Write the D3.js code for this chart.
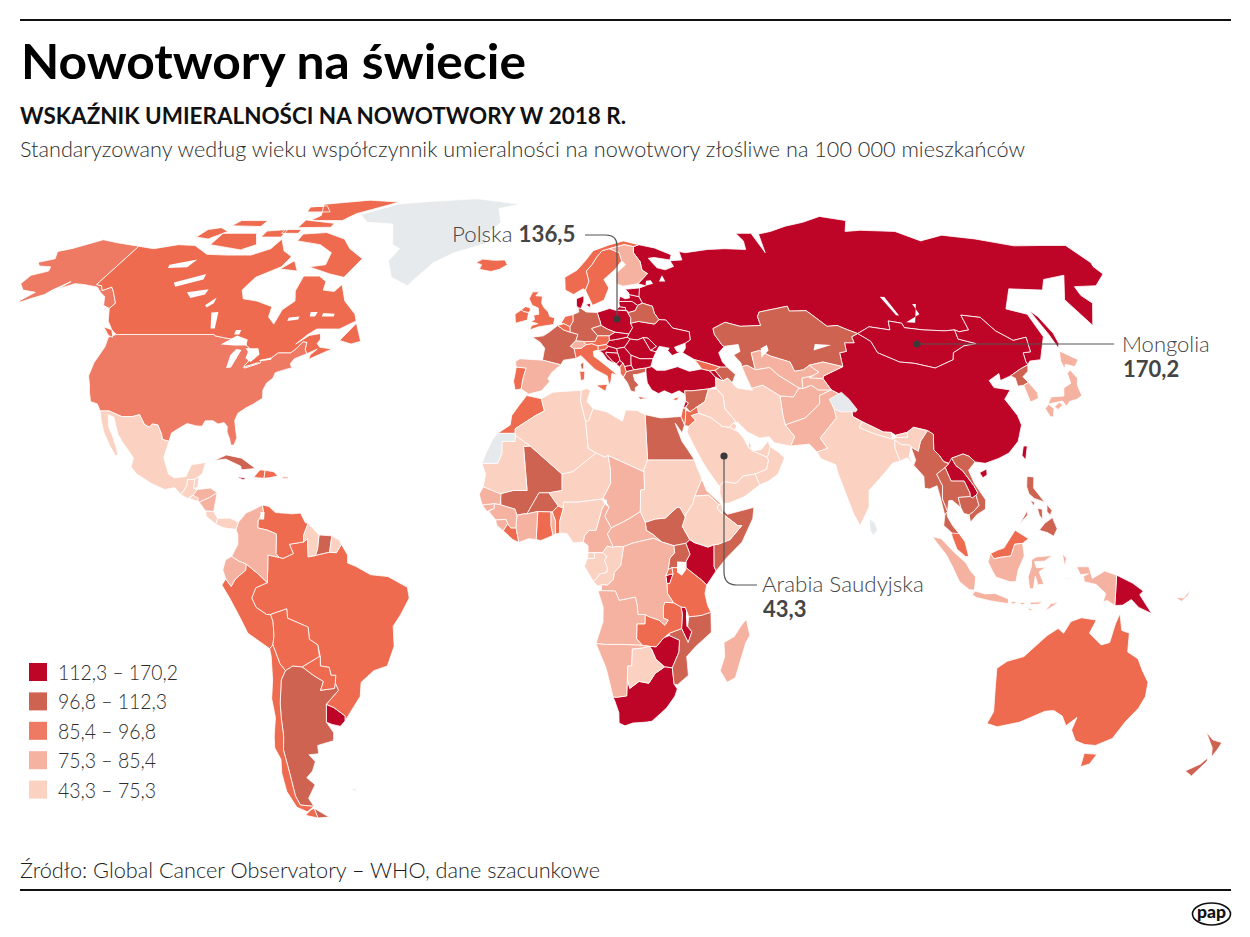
<!DOCTYPE html>
<html lang="pl"><head><meta charset="utf-8"><title>Nowotwory na świecie</title>
<script src="https://cdn.jsdelivr.net/npm/d3@7"></script>
<style>html,body{margin:0;background:#fff}svg{display:block}text{font-family:Lato,"Noto Sans",sans-serif}</style>
</head><body><svg id="c" width="1250" height="937"></svg>
<script>
// ---------- values ----------
const breaks=[75.3,85.4,88,96.8,112.3];
const palette=["#FBD1C2","#F6B2A0","#EE7A64","#EE6B4F","#CF6351","#BE0527"];
const noDataColor="#E6EAEC";
const legendLabels=["112,3 – 170,2","96,8 – 112,3","85,4 – 96,8","75,3 – 85,4","43,3 – 75,3"];
const legendSamples=[140,105,87,80,60];
const highest=[["Rosja",130.4],["Mongolia",170.2],["Chiny",130.1],["Turcja",119.4],["Polska",136.5],["Litwa",124.8],["Łotwa",127.6],["Estonia",126.3],["Ukraina",118.9],["Mołdawia",116.2],["Rumunia",122.5],["Bułgaria",117.3],["Węgry",141.1],["Słowacja",123.4],["Serbia",128.9],["Chorwacja",128.4],["Bośnia",121.7],["Czarnogóra",124.1],["Macedonia",114.5],["Dania",113.2],["Armenia",124.6],["Liban",113.9],["Laos",113.6],["Kenia",118.4],["Zimbabwe",126.8],["RPA",117.2],["Malawi",120.5],["Burundi",114.8],["Urugwaj",123.7],["Papua-Nowa Gwinea",121.3],["Jamajka",116.1]];
const high=[["Niemcy",106.7],["Francja",102.3],["Białoruś",104.5],["Czechy",108.9],["Kazachstan",103.6],["Argentyna",108.2],["Mali",101.4],["Burkina Faso",99.7],["Egipt",100.3],["Sudan Płd.",98.5],["Somalia",102.9],["Uganda",105.3],["Mjanma",104.8],["Tajlandia",103.2],["Kambodża",109.4],["Wietnam",101.6],["Korea Płn.",110.2],["Mozambik",99.1],["Surinam",106.3],["Kuba",107.5],["Filipiny",98.4],["Syria",100.9],["Grecja",103.7],["Nowa Zelandia",105.1],["Azerbejdżan",100.6]];
const upperMiddle=[["USA",86.9]];
const middle=[["Kanada",94.5],["Brazylia",93.2],["Wenezuela",92.8],["Peru",95.1],["Boliwia",90.6],["Paragwaj",91.4],["Chile",94.9],["Australia",92.7],["Szwecja",91.8],["Norwegia",96.1],["Islandia",93.4],["Irlandia",95.6],["Wielka Brytania",96.3],["Holandia",95.8],["Belgia",94.2],["Włochy",92.5],["Portugalia",93.9],["Maroko",89.7],["Ghana",91.2],["Benin",90.4],["Liberia",91.9],["Tanzania",90.8],["Zambia",92.3],["Malezja",93.6],["Jordania",95.4],["Izrael",94.7],["Haiti",96.4],["Dominikana",94.1],["Austria",89.9],["Słowenia",91.1],["Albania",90.3],["Gruzja",93.1],["Rwanda",92.1],["Cypr",90.1]];
const lowerMiddle=[["Hiszpania",83.5],["Finlandia",81.2],["Kolumbia",78.9],["Ekwador",84.2],["Honduras",76.4],["Nikaragua",79.8],["Czad",80.6],["Rep. Środkowoafrykańska",77.5],["DR Konga",78.2],["Angola",82.1],["Namibia",79.4],["Madagaskar",82.8],["Indonezja",80.3],["Japonia",81.7],["Korea Płd.",76.8],["Afganistan",78.6],["Pakistan",81.9],["Uzbekistan",83.7],["Wybrzeże Kości Słoniowej",79.1],["Gwinea",80.9],["Sierra Leone",77.6],["Gwinea Bissau",84.6],["Senegal",82.4],["Togo",76.1],["Kamerun",83.1],["Erytrea",78.4],["Szwajcaria",84.9],["Tadżykistan",75.9],["Turkmenistan",76.6],["Kirgistan",77.2],["Portoryko",84.1],["Wyspy Salomona",78.3]];
const lowest=[["Meksyk",71.4],["Gwatemala",68.9],["Belize",72.3],["Salwador",65.2],["Kostaryka",74.1],["Panama",72.8],["Gujana",70.5],["Gujana Fr.",69.7],["Algieria",66.4],["Libia",63.8],["Tunezja",67.2],["Mauretania",68.1],["Niger",59.6],["Nigeria",62.4],["Sudan",64.7],["Etiopia",67.9],["Dżibuti",74.6],["Arabia Saudyjska",43.3],["Jemen",69.3],["Oman",62.8],["ZEA",70.9],["Katar",58.7],["Kuwejt",61.5],["Irak",72.5],["Iran",71.2],["Indie",73.4],["Nepal",66.8],["Bhutan",69.4],["Bangladesz",68.6],["Gabon",70.2],["Kongo",74.9],["Gwinea Równikowa",73.7],["Botswana",72.1]];
const noDataNames=["Grenlandia","Sahara Zachodnia","Sri Lanka","Kaszmir","Falklandy"];
const calloutNames=["Polska","Mongolia","Arabia Saudyjska"];
const calloutValues=["136,5","170,2","43,3"];
// Robinson table
const robLat=[0,5,10,15,20,25,30,35,40,45,50,55,60,65,70,75,80,85,90];
const robLen=[1,.9986,.9954,.99,.9822,.973,.96,.9427,.9216,.8962,.8679,.835,.7986,.7597,.7186,.6732,.6213,.5722,.5322];
const robDfe=[0,.062,.124,.186,.248,.31,.372,.434,.4958,.5571,.6176,.6769,.7346,.7903,.8435,.8936,.9394,.9761,1];
// ---------- outlines [lon,lat] ----------
const outlines={
"Rosja":[[[28,59.5],[30,60],[27.8,60.5],[31.5,62.9],[30,63.7],[30,65.8],[28.5,68],[29,69.5],[31,70],[36,69.2],[41,67.5],[40,66.2],[35,66.8],[33,66.6],[35,64.3],[37.5,63.8],[40.5,64.6],[40,66],[44,66.2],[44,68.3],[46,68],[54,68.8],[60,69],[67,68.8],[68,71],[67,73],[72.5,73],[73,68],[75,72.8],[80,73.5],[87,74.9],[95,76],[104,77.7],[112,76.5],[107,73.5],[113,73.8],[125,73.5],[130,71],[140,72.5],[150,71.5],[160,69.7],[170,69.8],[178,69.8],[178,65.5],[177,64.6],[177,62.8],[170,60],[163,59.8],[162,57.8],[163,56],[156.7,51],[155.7,56.8],[164,62.5],[156,61.5],[152,59],[142,59.3],[135.5,54.7],[140.5,53.5],[140,48.5],[135,43.5],[131.8,43.2],[130.7,42.4],[130.6,43],[131.3,45],[133.5,45.2],[135,48.4],[130.8,47.7],[127.5,49.8],[126,52.8],[120.8,53.3],[120,50],[117,49.6],[116,50],[113,49.8],[107,50],[102,50.5],[102,51.5],[98.5,52],[97.5,50],[92,50.7],[87.8,49.2],[85.5,50],[83,51],[80,50.8],[77,53.5],[76,54.3],[71,54.2],[71,55.3],[62,54],[61,53],[61,51],[55,50.8],[51,51.7],[47,50.3],[47,49],[48.5,46.6],[49,46.4],[47,45],[47.5,43],[48.5,41.9],[46.5,41.9],[43.5,42.7],[40,43.5],[37,45],[38,46],[38.2,47.1],[39.8,47.8],[40,49.6],[35.5,50.4],[34,52.2],[32,52.3],[31,53.7],[30.8,55.3],[28,56],[27.3,57.7]],[[19.7,54.4],[22.7,54.4],[22.7,55],[21,55.2]],[[142,54.3],[143,53],[143.5,49.3],[143,47],[142,46],[142,49]]],
"Mongolia":[[[87.8,49.2],[92,50.7],[97.5,50],[98.5,52],[102,51.5],[102,50.5],[107,50],[113,49.8],[116,50],[115.5,48],[119.8,47],[116,46.5],[112,45],[111,43.5],[105,41.7],[100,42.7],[96,43],[91,45],[90.5,47.5]]],
"Chiny":[[[73.6,39.4],[74,40],[80,42],[80.5,45],[82.5,45.3],[83,47.2],[85.7,47.2],[85.7,48.5],[87.8,49.2],[90.5,47.5],[91,45],[96,43],[100,42.7],[105,41.7],[111,43.5],[112,45],[116,46.5],[119.8,47],[115.5,48],[116,50],[117,49.6],[120,50],[120.8,53.3],[126,52.8],[127.5,49.8],[130.8,47.7],[135,48.4],[133.5,45.2],[131.3,45],[130.6,43],[130.7,42.4],[128,41.5],[124.3,40],[121,39],[121.5,40.5],[118,39],[118.5,37.5],[122.5,37],[120,35],[121.8,31.5],[122,29.5],[120,26],[117,23.5],[114,22.3],[110.5,21.3],[108,21.6],[106.7,22.8],[105.3,23.3],[102.2,22.4],[101.7,21.2],[100,21.7],[99.2,23],[98,24.2],[98.7,27.5],[97.4,28.3],[94,29],[92,27.9],[89,27.3],[88,27.9],[86,28],[81,30.2],[78.9,31.3],[79,32.5],[78.5,33.5],[77.8,35.6],[75,37]],[[108.7,19.3],[110.6,20.1],[110.5,18.8],[109.3,18.2]],[[121,25],[122,25],[120.9,22],[120.2,23]]],
"Turcja":[[[26.3,41.7],[28,42],[29.2,41.2],[31.5,41.2],[35,42],[38,41],[41.5,41.5],[43.5,41.1],[44.8,39.7],[44.5,37.7],[42.4,37.2],[38,36.8],[36,36.8],[36,36],[34.5,36.8],[32.5,36.1],[30.6,36.8],[29,36.2],[27.3,37],[26.3,38.5],[26.2,40]]],
"Polska":[[[14.2,53.9],[18,54.8],[19.7,54.4],[23,54.3],[23.9,52.6],[23.6,51.5],[24,50.5],[22.7,49.1],[18.8,49.5],[16.7,50.2],[15,51],[14.8,52]]],
"Litwa":[[[21,55.2],[21,56.4],[25,56.4],[26.5,55.5],[25.5,54.3],[23.5,53.9],[23,54.3],[22.7,54.4],[22.7,55]]],
"Łotwa":[[[21,56.4],[21.6,57.6],[23,57],[24.4,57.2],[24.4,58],[27.3,57.5],[28,56],[26.5,55.5],[25,56.4]]],
"Estonia":[[[23.5,59.2],[28,59.5],[27.3,57.5],[24.4,58],[24.4,58.4]]],
"Ukraina":[[[22.7,49.1],[24,50.5],[23.6,51.5],[26,51.9],[30.5,51.3],[32,52.3],[34,52.2],[35.5,50.4],[40,49.6],[39.8,47.8],[38.2,47.1],[35,46.2],[35.5,45.3],[36.6,45.2],[34,44.4],[33,45.5],[33.5,46],[30.8,46.4],[29.7,45.2],[28.2,45.5],[30,46.4],[28,48.2],[26.6,48.3],[24.9,47.8],[22.9,48],[22.1,48.4]]],
"Mołdawia":[[[26.6,48.3],[28,48.2],[30,46.4],[28.2,45.5]]],
"Rumunia":[[[21,46.2],[22.9,48],[24.9,47.8],[26.6,48.3],[28.2,45.5],[29.7,45.2],[28.6,43.7],[25,43.7],[22.6,44.5]]],
"Bułgaria":[[[22.4,43],[22.6,44.5],[25,43.7],[28.6,43.7],[27.7,42],[26.3,41.7],[23,41.3],[22.4,42.3]]],
"Węgry":[[[16,46.8],[17,47.7],[18.8,47.9],[22.1,48.4],[22.9,48],[21,46.2],[18.8,45.9],[16.6,46.4]]],
"Słowacja":[[[17,48.7],[18.8,49.5],[22.7,49.1],[22.1,48.4],[18.8,47.9],[17,47.7]]],
"Serbia":[[[19,44.9],[18.8,45.9],[21,46.2],[22.6,44.5],[22.4,43],[22.4,42.3],[20.6,42],[20.2,42.8],[19.4,43.3],[19.4,43.7]]],
"Chorwacja":[[[13.7,45.5],[15.5,45.7],[16.6,46.4],[18.8,45.9],[19,44.9],[15.8,45.1],[15.8,44.7],[17.5,43.1],[18.5,42.4],[16,43.5],[14.8,45]]],
"Bośnia":[[[15.8,45.1],[19,44.9],[19.4,43.7],[19.4,43.3],[18.5,42.6],[17.5,43.1],[15.8,44.7]]],
"Czarnogóra":[[[18.5,42.6],[19.4,43.3],[20.2,42.8],[19.3,41.9],[18.5,42.4]]],
"Macedonia":[[[20.6,42],[22.4,42.3],[23,41.3],[20.9,40.9]]],
"Dania":[[[8.2,55.5],[8.6,54.9],[9.5,54.8],[10.5,56.5],[10.6,57.7],[8.3,57]],[[11,55.7],[12.5,56],[12.2,55]]],
"Armenia":[[[43.5,41.1],[45,41.2],[46.5,39.2],[46.5,38.9],[44.8,39.7]]],
"Liban":[[[35.1,33.1],[35.8,33.3],[36.6,34.2],[35.9,34.6]]],
"Laos":[[[102.2,22.4],[103,20.8],[104.5,19.7],[105.2,18.7],[106.8,16.5],[107.5,15],[107,14.5],[106,13.9],[105.5,14.2],[105.5,15],[104.5,17.5],[101.2,17.5],[100.5,19.5],[100.2,20.4],[101.2,21.2]]],
"Kenia":[[[34,4.2],[35,5],[36,4.4],[39.5,3.4],[41,3.9],[41,-0.8],[41.5,-1.7],[39.2,-4.7],[37.7,-3.5],[34,-1],[34,0.3],[35,1.9]]],
"Zimbabwe":[[[25.2,-17.8],[27,-17.9],[28.8,-16],[30.2,-15.5],[32.8,-16.5],[32.8,-19],[31.3,-22.4],[29.3,-22.2],[27,-20.5],[25.9,-18.5]]],
"RPA":[[[16.5,-28.6],[17.4,-28.7],[20,-28.4],[20,-24.8],[20.7,-26.8],[23,-25.3],[25.5,-25.7],[27,-23.6],[29.3,-22.2],[31.3,-22.4],[32,-25.9],[32.9,-26.9],[32.4,-28.5],[30.5,-31],[27,-33.8],[25.5,-34],[22,-34.2],[20,-34.8],[18.4,-34.2],[18.2,-32],[17,-29.5]]],
"Malawi":[[[32.9,-9.4],[34,-9.5],[34.9,-11.5],[34.7,-13.5],[35.8,-14.7],[35,-17],[34.4,-16],[33.2,-14],[33.3,-11]]],
"Burundi":[[[29,-2.7],[30.2,-2.4],[30.8,-2.4],[30,-4.4],[29.3,-4.4]]],
"Urugwaj":[[[-58.4,-34],[-57.6,-30.2],[-55.8,-30.9],[-53.2,-32.7],[-53.4,-33.7],[-54.9,-34.9],[-57,-34.5]]],
"Papua-Nowa Gwinea":[[[141,-2.6],[145,-4.3],[147.8,-6],[147,-6.8],[150.4,-10.8],[147,-9.5],[145,-7.8],[143,-9],[141,-9.1]]],
"Jamajka":[[[-78.3,18.4],[-76.3,18.1],[-77,17.8],[-78.3,18.2]]],
"Niemcy":[[[6,50.7],[7,52],[7,53.4],[8.8,54],[8.6,54.9],[9.5,54.8],[11,54],[14.2,53.9],[14.8,52],[15,51],[12.2,50.3],[13.8,48.7],[13,47.5],[10,47.4],[7.5,47.6],[8.2,49],[6,49.5]]],
"Francja":[[[-4.7,48.4],[-1.6,48.7],[0,49.5],[2.5,51],[4.2,50],[6,49.5],[8.2,49],[7.5,47.6],[6,46.4],[7,45.9],[7.5,43.8],[4,43.4],[3.2,42.4],[-1.8,43.4],[-1.2,46],[-2.5,47.3]],[[8.6,42.5],[9.5,43],[9.4,41.5],[8.8,41.5]]],
"Białoruś":[[[23.9,52.6],[23.6,51.5],[26,51.9],[30.5,51.3],[32,52.3],[31,53.7],[30.8,55.3],[28,56],[26.5,55.5],[25.5,54.3],[23.5,53.9],[23,54.3]]],
"Czechy":[[[12.2,50.3],[15,51],[16.7,50.2],[18.8,49.5],[17,48.7],[13.8,48.7]]],
"Kazachstan":[[[47,50.3],[51,51.7],[55,50.8],[61,51],[61,53],[62,54],[71,55.3],[71,54.2],[76,54.3],[77,53.5],[80,50.8],[83,51],[85.5,50],[87.8,49.2],[85.7,48.5],[85.7,47.2],[83,47.2],[82.5,45.3],[80.5,45],[80,42],[75,43],[71,42.3],[69,41.3],[66.5,41],[66,43],[61,44.3],[58.5,45.5],[56,45],[56,41.3],[54,42.3],[52.5,42],[52.5,42.8],[51,44.5],[53,45.3],[53,46.8],[49,46.4],[48.5,46.6],[47,49]]],
"Argentyna":[[[-65,-22],[-62.6,-22.2],[-60,-24],[-57.6,-25.3],[-58.6,-27.2],[-55,-26.8],[-54.6,-25.6],[-54,-27.2],[-57.6,-30.2],[-58.4,-34],[-57,-36.3],[-57.5,-38],[-62,-39],[-62.3,-40.8],[-65,-41],[-63.8,-42.5],[-65.3,-44.5],[-67.5,-46],[-65.8,-47.5],[-69,-50.5],[-68.4,-52.3],[-72.2,-52],[-72.5,-50],[-71.8,-45],[-71.5,-40],[-70.5,-37],[-70,-33],[-69.5,-30],[-68.3,-25],[-67,-23]],[[-68.6,-52.7],[-65.2,-54.7],[-68.6,-54.9]]],
"Mali":[[[-12.2,14.8],[-12,12.4],[-8.5,11.5],[-8,10.2],[-6.3,10.5],[-5.5,10.5],[-4.5,12],[-2.5,15],[0,15],[3.3,15.5],[3.3,19],[-4.8,25],[-6.5,24.9],[-5.5,15.5],[-9,15.5]]],
"Burkina Faso":[[[-5.5,10.5],[-4.5,12],[-2.5,15],[0,15],[2.3,12.2],[0.8,10.9],[-2.8,11]]],
"Egipt":[[[25,31.7],[29,31],[32.3,31.2],[34.3,31.3],[35,29.5],[34.2,27.8],[32.6,29.9],[34,26],[35.5,24],[36.9,22],[25,22]]],
"Sudan Płd.":[[[24,8.7],[26.5,9.4],[29,9.6],[32,11.9],[32.8,11.8],[34,9.8],[33.2,7.8],[35,5],[34,4.2],[31,3.7],[28,4.5],[26,6],[24.2,7]]],
"Somalia":[[[43.3,11.5],[44.5,10.4],[51.2,11.9],[50.8,9.5],[48,4.5],[44,1],[41.5,-1.7],[41,-0.8],[41,3.9],[42,4],[45,5],[48,8],[47,8],[43.3,10.5]]],
"Uganda":[[[31,3.7],[34,4.2],[35,1.9],[34,0.3],[34,-1],[30.5,-1],[29.6,-1.4],[30,1],[31.2,2.2]]],
"Mjanma":[[[92.3,20.9],[93,22],[92.3,24.8],[94,23.9],[95,26],[97.4,28.3],[98.7,27.5],[98,24.2],[99.2,23],[100,21.7],[101.2,21.2],[100.2,20.4],[97.8,19],[98.9,16.5],[98.5,13.7],[99.5,11],[98.7,10.2],[98,14],[97.5,16.5],[95.5,15.8],[94.3,16],[94.5,18.5]]],
"Tajlandia":[[[100.2,20.4],[100.5,19.5],[101.2,17.5],[104.5,17.5],[105.5,15],[105.5,14.2],[102.5,14],[102.9,11.8],[100.9,13.4],[100,13.3],[99.3,10],[100.5,8],[102,6.3],[101,5.7],[99.8,6.8],[98.3,8],[98.7,10.2],[99.5,11],[98.5,13.7],[98.9,16.5],[97.8,19]]],
"Kambodża":[[[102.5,14],[105.5,14.2],[106,13.9],[107,14.5],[107.5,12.3],[106,11],[104.8,10.3],[103.5,10.6],[102.9,11.8]]],
"Wietnam":[[[102.2,22.4],[105.3,23.3],[106.7,22.8],[108,21.6],[106,19.8],[107,17],[109.3,13.5],[109,11.5],[106.7,10.3],[105,8.7],[104.8,10.3],[106,11],[107.5,12.3],[107,14.5],[107.5,15],[106.8,16.5],[105.2,18.7],[104.5,19.7],[103,20.8]]],
"Korea Płn.":[[[124.3,40],[128,41.5],[130.7,42.4],[129.7,41],[127.5,39.8],[128.3,38.6],[126.7,38],[125,37.8],[125.3,39.5]]],
"Mozambik":[[[34.9,-11.5],[38,-11.2],[40.4,-10.5],[40.7,-14.8],[37,-17.8],[34.8,-20],[35.5,-24],[32.9,-26],[32,-25.9],[31.3,-22.4],[32.8,-19],[32.8,-16.5],[30.2,-15.5],[30.2,-15],[33.2,-14],[34.4,-16],[35,-17],[35.8,-14.7],[34.7,-13.5]]],
"Surinam":[[[-57.2,6],[-54,5.8],[-54.5,2.3],[-56,2],[-58,1.6],[-57.5,3]]],
"Kuba":[[[-84.9,21.9],[-82,23.1],[-78,22.4],[-74.2,20.2],[-77.7,19.9],[-78,20.7],[-82,22.2]]],
"Filipiny":[[[120.5,18.5],[122.2,18.4],[121.7,16],[124,13],[121.5,13.8],[120.3,14.8],[120,16.3]],[[122,7],[123.5,8.5],[125.5,9.7],[126.5,7.3],[125.5,5.7],[124,6.5]],[[124.5,12.5],[125.6,11.2],[125,10.2],[124.3,11]],[[122,11.7],[123.2,11.5],[123,9.3],[122.3,10.2]],[[117.3,8.4],[119.5,11.3],[119.3,10.2]],[[120.4,13.4],[121.5,13],[121.2,12.2]]],
"Syria":[[[36,36],[36,36.8],[38,36.8],[42.4,37.2],[41,34.5],[38.8,33.4],[36.8,32.3],[35.8,33.3],[36.6,34.2],[35.9,34.6]]],
"Grecja":[[[20,39.7],[20.9,40.9],[23,41.3],[26.3,41.7],[26,40.8],[23.7,40.3],[22.7,40.3],[23,39],[24,38],[23,37.5],[22.8,36.5],[21.7,36.8],[21.2,38],[21,38.5]],[[23.5,35.6],[26.3,35.2],[24,35]]],
"Nowa Zelandia":[[[173.9,-36.1],[177,-37.8],[179.9,-38.4],[179.9,-40],[179.9,-41.5],[178.2,-39.5]],[[179,-41.7],[178.4,-43],[175.7,-44.5],[178.6,-45.6],[179.6,-42.4]]],
"Azerbejdżan":[[[45,41.2],[46.5,41.9],[48.5,41.9],[50.3,40.3],[49,38.5],[48,39.5],[46.5,38.9],[46.5,39.2]]],
"USA":[[[-124.7,48.4],[-123,49],[-95.2,49],[-94.6,48.7],[-92,48.3],[-89.6,48],[-88.4,48.3],[-84.9,46.9],[-84.5,46.5],[-83.6,46.1],[-83.5,45.3],[-82.5,45.3],[-82.4,43],[-83.1,42.2],[-82.7,41.7],[-79,42.8],[-79,43.4],[-76.8,43.6],[-75,45],[-71.5,45],[-70.3,46],[-69.2,47.4],[-68,47.3],[-67.8,45.7],[-67,44.8],[-70,43.7],[-70.7,42.7],[-70,41.7],[-71.5,41.4],[-74,40.7],[-74.2,39.5],[-75.5,38.5],[-76,37],[-75.5,35.2],[-77.5,34],[-79.5,33],[-81,32],[-81.4,30.5],[-80.5,28],[-80,26.8],[-80.4,25.2],[-81.2,25.2],[-81.8,26.5],[-82.8,28],[-83,29.2],[-84,30],[-85.5,29.7],[-87,30.4],[-89,30.4],[-89.5,29.2],[-91,29.3],[-93.5,29.8],[-95,29],[-97,27.8],[-97.2,26],[-99,26.4],[-99.5,27.5],[-101,29.5],[-102.5,29.7],[-103,29],[-104.5,29.6],[-106.5,31.7],[-108.2,31.3],[-111,31.3],[-114.8,32.5],[-117.1,32.5],[-118.5,34],[-120.5,34.5],[-122,36.8],[-122.5,37.8],[-124,40],[-124.5,42.8],[-124,46.3]],[[-141,69.6],[-141,60.3],[-139,60],[-137.5,58.9],[-135.5,59.7],[-133.5,58.5],[-130,56],[-130.5,54.8],[-133,55.5],[-135,57.5],[-137.5,58.5],[-140,59.7],[-145,60.3],[-148,60.5],[-151.5,59.3],[-150,61],[-153,59],[-154,58],[-157,57],[-162,55],[-165,54.5],[-160,56.2],[-157.5,58.5],[-162,59],[-165,60.5],[-165,62.5],[-161,63.5],[-162,64.5],[-166,64.7],[-168,65.6],[-164,66.5],[-166.5,68.3],[-163,69],[-156.5,71.3],[-150,70.5],[-145,70]]],
"Kanada":[[[-141,69.6],[-135,69],[-128,70],[-122,69.8],[-115,67.6],[-108,67.4],[-100,67.4],[-95,69],[-94,71.5],[-90,68.5],[-86,67],[-87,64.5],[-93,62],[-94.5,59],[-92.5,57],[-88,56.5],[-82.5,55.2],[-82,52.9],[-79.5,51.3],[-79,54.5],[-76.5,56.5],[-78,58.8],[-78,62.3],[-73,62.3],[-70,61],[-69.5,59],[-66,58.7],[-64.5,60.3],[-61.5,56.5],[-57,53.5],[-56,52],[-60,50.2],[-66.5,50.2],[-68.5,49],[-71,46.9],[-68,48.8],[-65,49.2],[-64.5,48],[-65,47],[-64,46.2],[-61,45.9],[-60,46],[-63.5,44.6],[-66,43.6],[-66,44.5],[-64.5,45.8],[-67,44.8],[-67.8,45.7],[-68,47.3],[-69.2,47.4],[-70.3,46],[-71.5,45],[-75,45],[-76.8,43.6],[-79,43.4],[-79,42.8],[-82.7,41.7],[-83.1,42.2],[-82.4,43],[-82.5,45.3],[-83.5,45.3],[-83.6,46.1],[-84.5,46.5],[-84.9,46.9],[-88.4,48.3],[-89.6,48],[-92,48.3],[-94.6,48.7],[-95.2,49],[-123,49],[-125,50],[-128,52],[-130.5,54.8],[-130,56],[-133.5,58.5],[-135.5,59.7],[-137.5,58.9],[-139,60],[-141,60.3]],[[-59,47.7],[-55.7,51.5],[-53,47.5],[-55.5,46.9]],[[-128,50.7],[-125,50],[-123.5,48.4],[-125,48.8]],[[-62,66.5],[-65,62],[-70,62.8],[-78,64.5],[-73,65],[-73.5,68],[-79,70],[-88,71],[-88,72.8],[-80,73.2],[-72,71.5],[-68,69]],[[-117,70],[-105,68.7],[-101,70],[-105,73],[-117,73]],[[-90,76.5],[-78,76.5],[-75,78.5],[-62,82.3],[-75,83],[-92,81.5],[-88,78]],[[-92,74.5],[-80,74.6],[-80,75.7],[-92,76.7]],[[-125,72],[-120,71.5],[-116,73.5],[-120,74.5],[-124,74]],[[-117,75],[-106,74.8],[-106,76.5],[-116,76.5]],[[-95,79],[-86,79],[-90,81],[-96,80.5]],[[-87,64],[-81,63.5],[-84,66]],[[-102,72],[-95,72],[-95,74],[-102,73.6]],[[-96,73],[-90,73],[-90,74],[-96,74]]],
"Brazylia":[[[-51.6,4],[-50,1.7],[-50,0],[-48,-0.7],[-44.3,-2.5],[-40,-2.9],[-35.2,-5.2],[-34.8,-7.5],[-37,-11],[-39,-13.5],[-39,-17.8],[-41,-22],[-44.5,-23],[-48,-25.5],[-48.6,-28.5],[-52,-32.2],[-53.4,-33.7],[-53.2,-32.7],[-55.8,-30.9],[-57.6,-30.2],[-54,-27.2],[-54.6,-25.6],[-54.3,-24],[-55.5,-24],[-55.8,-22.3],[-58,-22],[-57.8,-20],[-58.2,-17.5],[-60.2,-16.3],[-60.3,-13.7],[-65.3,-11.8],[-65.4,-9.8],[-69.5,-11],[-70.5,-11],[-73,-9.5],[-74,-7.5],[-72.9,-5.3],[-70,-4.2],[-69.8,-0.5],[-69.8,1.7],[-67,1.2],[-66,1],[-63.5,2],[-64.5,4],[-61,4.5],[-60,5.2],[-59.9,3],[-59.8,1.3],[-58,1.6],[-56,2],[-54.5,2.3],[-52.8,2.2]]],
"Wenezuela":[[[-71.7,12.4],[-70,12.1],[-68.3,10.8],[-64,10.5],[-62,10.7],[-60.7,8.6],[-60,8.5],[-61,6],[-61,4.5],[-64.5,4],[-63.5,2],[-66,1],[-67,1.2],[-67.8,2],[-67.8,6.2],[-70,7],[-72.5,7.5],[-72.5,9],[-71.3,11]]],
"Peru":[[[-81.3,-4.7],[-80.3,-3.4],[-79,-5],[-78,-3.5],[-75.3,-1.5],[-75.2,-0.2],[-72,-2.5],[-70,-4.2],[-72.9,-5.3],[-74,-7.5],[-73,-9.5],[-70.5,-11],[-69.5,-11],[-69,-12.5],[-69,-15.5],[-69.5,-17.5],[-70.4,-18.3],[-75.5,-15],[-77,-12],[-79.5,-7.5]]],
"Boliwia":[[[-69.5,-11],[-65.4,-9.8],[-65.3,-11.8],[-60.3,-13.7],[-60.2,-16.3],[-58.2,-17.5],[-58,-20],[-62.6,-22.2],[-65,-22],[-67,-23],[-68.2,-21.5],[-69.5,-17.5],[-69,-15.5],[-69,-12.5]]],
"Paragwaj":[[[-58,-20],[-57.8,-20],[-58,-22],[-55.8,-22.3],[-55.5,-24],[-54.3,-24],[-54.6,-25.6],[-55,-26.8],[-58.6,-27.2],[-57.6,-25.3],[-60,-24],[-62.6,-22.2]]],
"Chile":[[[-70.4,-18.3],[-69.5,-17.5],[-68.2,-21.5],[-67,-23],[-68.3,-25],[-69.5,-30],[-70,-33],[-70.5,-37],[-71.5,-40],[-71.8,-45],[-72.5,-50],[-72.2,-52],[-68.4,-52.3],[-71,-53.5],[-73.5,-52.5],[-74.5,-49],[-74,-45],[-73,-42],[-73.7,-39.5],[-73,-37],[-71.5,-33],[-71.5,-29],[-70.5,-25],[-70.2,-20]],[[-68.6,-52.7],[-68.6,-54.9],[-72,-54.3],[-70,-53.2]]],
"Australia":[[[113.7,-22.5],[114.2,-26],[115.7,-31.8],[115,-34.3],[118,-35],[123.5,-34],[129,-31.7],[131.2,-31.5],[134,-32.7],[136,-34.8],[138,-33],[138,-35.7],[140.5,-38],[143.5,-38.8],[146.5,-39],[150,-37.5],[151.2,-33.8],[153,-31],[153.6,-28.5],[153,-25.5],[150.8,-23],[149,-20.5],[146,-19],[145.5,-15],[143.5,-14.4],[142.5,-10.8],[141.7,-13],[141,-17],[139,-17.5],[135.5,-15],[136.8,-12.2],[133,-11.7],[130.5,-12.5],[129,-15],[127.5,-14],[125,-15.5],[122.2,-18],[120,-20],[116,-21]],[[144.7,-40.7],[148.3,-40.9],[148,-43],[146,-43.6]]],
"Szwecja":[[[11.2,59],[13,55.5],[14.5,56],[16.6,56.7],[18.5,59.5],[17.3,61.5],[21.5,64],[24,66],[23.7,68],[20.6,69],[18,68.5],[16,67],[14,65],[12,63.5],[12.5,61]]],
"Norwegia":[[[5,59],[7.5,58],[10.5,59.3],[11.2,59],[12.5,61],[12,63.5],[14,65],[16,67],[18,68.5],[20.6,69],[26,70],[29,69.5],[31,70],[26,71],[21,70],[15,68.5],[12,66],[9,63.7],[5,62]]],
"Islandia":[[[-24,65.5],[-22,66.4],[-18,66.1],[-14.6,66.2],[-13.6,65],[-16,63.9],[-18.7,63.4],[-22.5,63.9],[-22,65]]],
"Irlandia":[[[-10,53.5],[-8.2,54.5],[-7.4,54.1],[-6,53.9],[-6.3,52.2],[-9.7,51.5]]],
"Wielka Brytania":[[[-5.5,50],[-3,50.7],[1.3,51.2],[1.7,52.7],[0.2,53],[-0.2,54],[-1.5,55],[-2.2,56],[-2,57.6],[-4,57.7],[-3,58.6],[-5,58.6],[-6,57],[-5,55.5],[-3.2,54.9],[-3,53.5],[-4.5,53.3],[-4.2,52.3],[-5.2,51.8],[-3.2,51.4],[-5,51]],[[-7.4,54.1],[-8.2,54.5],[-7,55.2],[-5.7,55],[-5.5,54.4],[-6,53.9]]],
"Holandia":[[[3.4,51.4],[4.7,53],[7,53.4],[7,52],[6,50.7],[4.3,51.4]]],
"Belgia":[[[2.5,51],[4.3,51.4],[6,50.7],[6,49.5],[4.2,50]]],
"Włochy":[[[7,45.9],[9,46],[10.4,46.8],[12,47],[13.7,46.5],[13.7,45.6],[12.3,45.3],[12.4,44.2],[13.6,43.5],[16,41.9],[18.5,40.2],[17,40.5],[16.6,38.9],[16,38],[15.7,40],[12.5,41.4],[10.5,43],[8.8,44.4],[7.5,43.8]],[[12.5,38],[15.6,38.2],[15,36.7]],[[8.3,41],[9.7,41],[9.5,39.2],[8.5,39]]],
"Portugalia":[[[-8.9,41.9],[-6.2,41.7],[-6.9,39.7],[-7.4,37.2],[-9,37],[-9.5,38.8]]],
"Maroko":[[[-5.9,35.8],[-2,35.1],[-1.2,32.5],[-3.5,31.5],[-8.7,28.7],[-8.7,27.7],[-13.2,27.7],[-10,29.5],[-9.7,31.5],[-8,33.5]]],
"Ghana":[[[-3.2,5],[-2.8,11],[0.5,10.9],[0.5,8],[1,5.9],[-2,4.8]]],
"Benin":[[[1.6,6.2],[1.6,9],[0.8,10.9],[2.3,12.2],[3.6,11.7],[2.7,9],[2.7,6.4]]],
"Liberia":[[[-11.4,6.9],[-10.3,8.4],[-9.5,7.5],[-8.2,7.5],[-7.5,4.4],[-9,5]]],
"Tanzania":[[[30.5,-1],[34,-1],[37.7,-3.5],[39.2,-4.7],[38.8,-6.5],[39.5,-9],[40.4,-10.5],[38,-11.2],[34.9,-11.5],[34,-9.5],[32.9,-9.4],[31,-8.5],[29.5,-6.5],[29.3,-4.4],[30,-4.4],[30.8,-2.4]]],
"Zambia":[[[22,-13],[24,-13],[24,-11],[25,-11.5],[27.5,-12.2],[29,-13.3],[29.8,-12.2],[28.6,-11.8],[28.5,-9.2],[28.9,-8.4],[31,-8.5],[32.9,-9.4],[33.3,-11],[33.2,-14],[30.2,-15],[28.8,-16],[27,-17.9],[25.2,-17.8],[23.5,-17.6],[22,-16.2]]],
"Malezja":[[[100.1,6.4],[102,6.3],[103.4,4.5],[104.2,1.4],[103.4,1.4],[101.3,3],[100.3,5.5]],[[109.6,2],[111.3,2.7],[113,3.2],[116,7],[119.2,5.2],[117.7,4.2],[115.7,4],[114.7,1.5],[112,1.2],[110.5,0.9]]],
"Jordania":[[[35,29.4],[35.5,31.5],[35.7,32.7],[36.8,32.3],[38.8,33.4],[39,32],[37,31.5],[38,30.5],[36,29.2]]],
"Izrael":[[[34.3,31.3],[35,33.1],[35.7,33],[35.5,31.5],[35,29.5]]],
"Haiti":[[[-74.4,18.4],[-73,19.9],[-71.7,19.8],[-71.8,18.1],[-73.5,18.2]]],
"Dominikana":[[[-71.7,19.8],[-69.5,19.5],[-68.4,18.6],[-70.5,18.2],[-71.8,18.1]]],
"Austria":[[[9.6,47.5],[10,47.4],[13,47.5],[13.8,48.7],[17,48.7],[17,47.7],[16,46.8],[13.7,46.5],[12,47],[10.4,46.8]]],
"Słowenia":[[[13.7,46.5],[16,46.8],[16.6,46.4],[15.5,45.7],[13.7,45.5]]],
"Albania":[[[19.3,41.9],[20.2,42.8],[20.6,42],[20.9,40.9],[20,39.7],[19.3,40.5]]],
"Gruzja":[[[40,43.5],[43.5,42.7],[46.5,41.9],[45,41.2],[43.5,41.1],[41.5,41.5]]],
"Rwanda":[[[29,-2.7],[29.6,-1.4],[30.5,-1],[30.8,-2.4],[30.2,-2.4]]],
"Cypr":[[[32.3,35],[34.5,35.6],[33.5,34.7]]],
"Hiszpania":[[[-9.2,43.1],[-8,43.7],[-1.8,43.4],[3.2,42.4],[0.7,40.7],[-0.3,39.4],[0.2,38.8],[-2,36.8],[-5.4,36.1],[-7.4,37.2],[-6.9,39.7],[-6.2,41.7],[-8.9,41.9]]],
"Finlandia":[[[21,60.5],[21.5,63],[25,65],[24,66],[23.7,68],[20.6,69],[26,70],[29,69.5],[28.5,68],[30,65.8],[30,63.7],[31.5,62.9],[27.8,60.5],[23,59.9]]],
"Kolumbia":[[[-77.9,7.2],[-77.4,8.7],[-75.6,10.7],[-74,11.3],[-71.7,12.4],[-71.3,11],[-72.5,9],[-72.5,7.5],[-70,7],[-67.8,6.2],[-67.8,2],[-67,1.2],[-69.8,1.7],[-69.8,-0.5],[-70,-4.2],[-72,-2.5],[-75.2,-0.2],[-77,0.4],[-78.8,1.4],[-77.3,4],[-77.4,6]]],
"Ekwador":[[[-80.3,0.7],[-78.8,1.4],[-77,0.4],[-75.2,-0.2],[-75.3,-1.5],[-78,-3.5],[-79,-5],[-80.3,-3.4],[-81,-1.5]]],
"Honduras":[[[-89.2,14.5],[-88.3,15.7],[-85,16],[-83.2,15],[-85,14],[-87.5,13]]],
"Nikaragua":[[[-87.5,13],[-85,14],[-83.2,15],[-83.7,11],[-85.7,11.1]]],
"Czad":[[[14.2,13],[15,12],[13.9,10],[15.5,7.5],[19,9],[21,10],[22.8,11],[23,15.6],[24,15.7],[24,19.5],[15,23],[15.5,20],[15.5,17],[13.6,14]]],
"Rep. Środkowoafrykańska":[[[14.5,6.2],[16,3.3],[16.5,3.5],[18.5,3.5],[21,4.3],[23,4.7],[26,5.3],[28,4.5],[26,6],[24.2,7],[24,8.7],[22.8,11],[21,10],[19,9],[15.5,7.5]]],
"DR Konga":[[[12.2,-6],[13,-5.9],[13.1,-4.6],[14.5,-4.7],[16,-3.5],[16.2,-2],[17.8,-0.5],[18.5,3.5],[21,4.3],[23,4.7],[26,5.3],[28,4.5],[31,3.7],[31.2,2.2],[30,1],[29.6,-1.4],[29,-2.7],[29.3,-4.4],[29.5,-6.5],[31,-8.5],[28.9,-8.4],[28.5,-9.2],[28.6,-11.8],[29.8,-12.2],[29,-13.3],[27.5,-12.2],[25,-11.5],[24,-11],[22.2,-11],[22,-9.2],[21.5,-7.3],[17.5,-8],[16.5,-6],[13,-5.9]]],
"Angola":[[[11.8,-17.2],[13.5,-12.5],[13.5,-9.5],[12.2,-6],[13,-5.9],[16.5,-6],[17.5,-8],[21.5,-7.3],[22,-9.2],[22.2,-11],[24,-11],[24,-13],[22,-13],[22,-16.2],[23.5,-17.6],[18.5,-17.4],[14,-17.4]]],
"Namibia":[[[11.8,-17.2],[14,-17.4],[18.5,-17.4],[23.5,-17.6],[25.2,-17.8],[23.5,-18.2],[21,-18.4],[21,-22],[20,-22],[20,-28.4],[17.4,-28.7],[16.5,-28.6],[14.5,-22.5]]],
"Madagaskar":[[[49.3,-12],[50.4,-15.5],[49.5,-17],[47.5,-24.5],[45.5,-25.5],[43.5,-23],[44.4,-20],[44,-17],[46.5,-15.7],[48,-13.5]]],
"Indonezja":[[[109.6,2],[110.5,0.9],[112,1.2],[114.7,1.5],[115.7,4],[117.7,4.2],[118,1.5],[116.5,-1.5],[116,-4],[114.5,-4],[111,-3],[110,-1.5],[109,0.2]],[[95.3,5.6],[97.5,5.2],[100.4,2.5],[103.5,0],[104.5,-1.5],[106,-3],[105.8,-5.8],[104.5,-5.7],[102,-4],[100.3,-1],[98.7,1.7]],[[105.3,-6.8],[106,-6],[108.5,-6.6],[111,-6.5],[114.4,-7.7],[114.4,-8.7],[110,-8.1],[106.5,-7.4]],[[119.8,0.7],[121,1.3],[125,1.6],[123,0.4],[120.5,0.3],[121,-1],[123.3,-0.9],[121.7,-1.9],[123,-4.5],[121.5,-4.7],[120.8,-2.8],[120.4,-5.5],[119.5,-5.5],[119,-3],[119.8,-0.7]],[[127.5,2],[128.5,1],[128,-0.7],[127.7,0.8]],[[128,-3.2],[130.8,-3.3],[129,-3.4]],[[123.7,-10.3],[127,-8.4],[125,-8.7]],[[119.8,-8.4],[123,-8.3],[122,-8.8],[120,-8.9]],[[116.8,-8.5],[119,-8.4],[118,-8.9]],[[115,-8.2],[116.7,-8.3],[115.5,-8.8]],[[119,-9.5],[120.8,-10],[120,-10.2]],[[131,-0.8],[134,-0.8],[135,-3.3],[138,-1.7],[141,-2.6],[141,-9.1],[139,-8],[138,-8.3],[138.5,-6.5],[136,-4.6],[133,-4],[132.8,-2.8],[134,-2.3],[132,-2.5]]],
"Japonia":[[[130.9,34],[132.5,35.5],[136,35.7],[137,37.4],[139.5,38.4],[140,40.5],[141.3,41.3],[142,39.5],[141,38],[140.8,35.8],[139,35],[136.8,34.5],[135.5,33.5],[135,34.6],[132.5,34.2]],[[140,41.5],[140.3,43.3],[141.7,45.4],[145.3,43.5],[143.2,42],[141,42.5]],[[129.7,33],[131,33.9],[132,33],[131,31.2],[130.2,31.3]],[[132.3,33.4],[134,34.3],[134.7,33.8],[133,32.8]]],
"Korea Płd.":[[[126.7,38],[128.3,38.6],[129.4,36.5],[129,35.2],[126.5,34.4],[126.6,37]]],
"Afganistan":[[[61,35.7],[64.5,35.5],[66.5,37.4],[67.5,37.3],[70,38],[71.5,37],[75,37],[71.5,35.8],[71,34],[69.5,33],[66.5,31],[61,29.5],[60.8,31.5]]],
"Pakistan":[[[61,29.5],[66.5,31],[69.5,33],[71,34],[71.5,35.8],[75,37],[77.8,35.6],[74,34.8],[74.5,33],[74.6,31],[71,28],[69.5,26.7],[71,24.5],[68.2,23.7],[66.5,25.4],[61.6,25],[63,27]]],
"Uzbekistan":[[[56,45],[58.5,45.5],[61,44.3],[66,43],[66.5,41],[69,41.3],[71,42.3],[73,40.8],[71,40],[68,39.5],[67.5,37.3],[66.5,37.4],[62,40],[60,41.8],[56,41.3]]],
"Wybrzeże Kości Słoniowej":[[[-7.5,4.4],[-8.2,7.5],[-8.2,8.5],[-8,10.2],[-6.3,10.5],[-5.5,10.5],[-2.8,11],[-3.2,5],[-5,5.2]]],
"Gwinea":[[[-15,11],[-13.7,11.7],[-13.7,12.7],[-12.2,12.5],[-12,12.4],[-8.5,11.5],[-8,10.2],[-8.2,8.5],[-8.2,7.5],[-9.5,7.5],[-10.3,8.4],[-10.7,9.3],[-13.3,9.2]]],
"Sierra Leone":[[[-13.3,9.2],[-10.7,9.3],[-10.3,8.4],[-11.4,6.9],[-13,8]]],
"Gwinea Bissau":[[[-16.7,12.4],[-13.7,12.7],[-13.7,11.7],[-15.5,11]]],
"Senegal":[[[-17.5,14.7],[-16.5,16.3],[-12,14.8],[-12.2,12.5],[-13.7,12.7],[-16.7,12.4]]],
"Togo":[[[0.5,10.9],[0.8,10.9],[1.6,9],[1.6,6.2],[1,5.9],[0.5,8]]],
"Kamerun":[[[8.5,4.5],[9.7,3.7],[9.7,2.2],[11.3,2.2],[13.3,2.2],[14.5,3.6],[16,3.3],[14.5,6.2],[15.5,7.5],[13.9,10],[15,12],[14.2,12.4],[14.2,13],[13.2,11.5],[11.7,7],[10,7],[8.8,5.8]]],
"Erytrea":[[[38.5,18],[39.5,15.5],[43.1,12.6],[42.4,12.5],[40,14.5],[36.5,14.3]]],
"Szwajcaria":[[[6,46.4],[7.5,47.6],[9.6,47.5],[10.4,46.8],[9,46],[7,45.9]]],
"Tadżykistan":[[[68,39.5],[71,40],[70,39.6],[73.6,39.4],[75,37],[71.5,37],[70,38],[67.5,37.3]]],
"Turkmenistan":[[[52.5,42],[54,42.3],[56,41.3],[60,41.8],[62,40],[66.5,37.4],[64.5,35.5],[61,35.7],[57,38],[53.9,37.3],[53,40]]],
"Kirgistan":[[[71,42.3],[75,43],[80,42],[74,40],[73.6,39.4],[70,39.6],[71,40],[73,40.8]]],
"Portoryko":[[[-67.2,18.5],[-65.7,18.4],[-65.8,18],[-67.2,18]]],
"Wyspy Salomona":[[[155.9,-7.3],[158,-7.5],[159.5,-5.6],[159,-7],[157.5,-8.2]]],
"Meksyk":[[[-117.1,32.5],[-114.8,32.5],[-111,31.3],[-108.2,31.3],[-106.5,31.7],[-104.5,29.6],[-103,29],[-102.5,29.7],[-101,29.5],[-99.5,27.5],[-99,26.4],[-97.2,26],[-97.8,22.5],[-96,19],[-94.5,18.2],[-91.5,18.5],[-90.5,21],[-87,21.5],[-87.5,19],[-88.3,18.5],[-89.2,17.9],[-91,17.8],[-91,16.5],[-92.2,14.6],[-94,16.1],[-96.5,15.7],[-100,17],[-104,19],[-105.7,20.5],[-105.5,22.5],[-109,25.8],[-110.7,27.5],[-113,31.2],[-114.7,31.7],[-113.5,29],[-111.5,26.5],[-110,24],[-109.5,23],[-110.2,23],[-112,25],[-114.5,28],[-116,30.5]]],
"Gwatemala":[[[-92.2,14.6],[-91,16.5],[-91,17.8],[-89.2,17.9],[-89.2,15.9],[-88.3,15.7],[-89.2,14.5],[-90.5,13.8]]],
"Belize":[[[-89.2,17.9],[-88.3,18.5],[-88.2,16.2],[-89.2,15.9]]],
"Salwador":[[[-90.1,13.8],[-89.2,14.5],[-87.7,13.8],[-88,13.2]]],
"Kostaryka":[[[-85.7,11.1],[-83.7,11],[-82.6,9.5],[-83,8.3],[-85.5,10]]],
"Panama":[[[-83,8.3],[-82.6,9.5],[-79.5,9.6],[-77.4,8.7],[-77.9,7.2],[-80.3,7.4],[-81.5,7.7]]],
"Gujana":[[[-60,8.5],[-57.2,6],[-57.5,3],[-58,1.6],[-59.8,1.3],[-59.9,3],[-60,5.2],[-61,4.5],[-61,6]]],
"Gujana Fr.":[[[-54,5.8],[-52,4.8],[-51.6,4],[-52.8,2.2],[-54.5,2.3]]],
"Algieria":[[[-2,35.1],[1,36.5],[8.6,36.9],[8.3,34.6],[9.5,30.2],[10,24.5],[12,23.5],[6,19.5],[3.3,19],[-4.8,25],[-8.7,27.3],[-8.7,28.7],[-3.5,31.5],[-1.2,32.5]]],
"Libia":[[[11.5,33],[15,32.3],[19,30.3],[20,32.7],[23,32.6],[25,31.7],[25,22],[24,20],[24,19.5],[15,23],[14.2,22.6],[12,23.5],[10,24.5],[9.5,30.2],[10.3,30.5]]],
"Tunezja":[[[8.6,36.9],[10,37.3],[11,36.9],[10,34.5],[11.5,33],[10.3,30.5],[9.5,30.2],[8.3,34.6]]],
"Mauretania":[[[-17,21.3],[-13,21.3],[-12,23.4],[-12,26],[-8.7,26],[-8.7,27.3],[-4.8,25],[-6.5,24.9],[-5.5,15.5],[-9,15.5],[-12.2,14.8],[-16.5,16.3],[-16,19]]],
"Niger":[[[0,15],[2.3,12.2],[3.6,11.7],[3.6,13],[7,13],[10,13.3],[13.6,13.7],[13.6,14],[15.5,17],[15.5,20],[15,23],[14.2,22.6],[12,23.5],[6,19.5],[3.3,19],[3.3,15.5]]],
"Nigeria":[[[2.7,6.4],[2.7,9],[3.6,11.7],[3.6,13],[7,13],[10,13.3],[13.6,13.7],[14.2,13],[13.2,11.5],[11.7,7],[10,7],[8.8,5.8],[8.5,4.5],[6,4.3],[4.5,6.3]]],
"Sudan":[[[24,19.5],[24,20],[25,22],[36.9,22],[37.4,20.5],[38.5,18],[36.5,14.3],[36,12.7],[34.2,10.5],[34,9.8],[32.8,11.8],[32,11.9],[29,9.6],[26.5,9.4],[24,8.7],[22.8,11],[23,15.6],[24,15.7]]],
"Etiopia":[[[36.5,14.3],[40,14.5],[42.4,12.5],[42,11.7],[42.7,11],[43.3,10.5],[47,8],[48,8],[45,5],[42,4],[41,3.9],[39.5,3.4],[36,4.4],[35,5],[33.2,7.8],[34,9.8],[34.2,10.5],[36,12.7]]],
"Dżibuti":[[[43.1,12.6],[43.3,11.5],[43.3,10.5],[42.7,11],[42,11.7],[42.4,12.5]]],
"Arabia Saudyjska":[[[36,29.2],[38,30.5],[37,31.5],[39,32],[42,31.1],[44.7,29.2],[46.5,29],[47.7,28.5],[48.7,28],[50,26.5],[50.8,24.7],[51.2,24.5],[52,23.9],[55.2,22.7],[55.7,22],[55,20],[52,19],[49,18.6],[47,17],[44,17.4],[43,16.5],[42.7,16.5],[40,20],[39,21.5],[37,25],[35.5,28]]],
"Jemen":[[[43,16.5],[44,17.4],[47,17],[49,18.6],[52,19],[53,16.7],[49,14.2],[45,12.8],[43.5,12.7],[42.8,15]]],
"Oman":[[[56.4,24.9],[58.5,23.6],[59.8,22.5],[57.8,19],[55.3,17.5],[53,16.7],[52,19],[55,20],[55.7,22],[55.2,22.7],[55.7,23]]],
"ZEA":[[[51.6,24],[54,24.2],[56,26],[56.4,24.9],[55.7,23],[55.2,22.7],[52,23.9]]],
"Katar":[[[50.8,24.7],[51.2,26.1],[51.6,25],[51.2,24.5]]],
"Kuwejt":[[[46.5,29],[47.7,30],[48.4,29.3],[48,28.5],[47.7,28.5]]],
"Irak":[[[38.8,33.4],[41,34.5],[42.4,37.2],[44.5,37.2],[46,35.8],[46,33],[47.7,31],[48.5,30],[47.7,30],[46.5,29],[44.7,29.2],[42,31.1],[39,32]]],
"Iran":[[[44.5,37.7],[44.8,39.7],[46.5,38.9],[48,39.5],[49,38.5],[50,37.4],[54,36.9],[53.9,37.3],[57,38],[61,35.7],[60.8,31.5],[61,29.5],[63,27],[61.6,25],[57.5,25.7],[56.5,27],[54,26.7],[51,28],[48.7,30.2],[48.5,30],[47.7,31],[46,33],[46,35.8],[44.5,37.2]]],
"Indie":[[[74.5,33],[76,32.5],[79,32.5],[78.9,31.3],[81,30.2],[80,28.9],[84,27.5],[88,26.5],[89,26.8],[92,26.9],[92,27.9],[94,29],[97.4,28.3],[95,26],[94,23.9],[92.3,24.8],[92,25.2],[89.9,25.3],[88.5,26.3],[88.2,24.5],[89,21.8],[87,21.3],[85,19.5],[80.3,15.5],[80,12],[77.5,8],[76,10.5],[73,19],[72.6,21],[69,22.3],[68.2,23.7],[71,24.5],[69.5,26.7],[71,28],[74.6,31]]],
"Nepal":[[[81,30.2],[86,28],[88,27.9],[88,26.5],[84,27.5],[80,28.9]]],
"Bhutan":[[[89,27.3],[92,27.9],[92,26.9],[89,26.8]]],
"Bangladesz":[[[88.2,24.5],[88.5,26.3],[89.9,25.3],[92,25.2],[92.3,24.8],[91.5,22.7],[92.3,20.9],[91,22.5],[89,21.8]]],
"Gabon":[[[8.8,-0.7],[9.5,1],[11.3,1],[11.3,2.2],[13.3,2.2],[14.4,1.4],[13.8,0.5],[14.5,-1],[14.4,-2],[12.5,-2.4],[11.7,-3.5],[11,-3.9]]],
"Kongo":[[[11,-3.9],[11.7,-3.5],[12.5,-2.4],[14.4,-2],[14.5,-1],[13.8,0.5],[14.4,1.4],[13.3,2.2],[14.5,3.6],[16,3.3],[16.5,3.5],[18.5,3.5],[17.8,-0.5],[16.2,-2],[16,-3.5],[14.5,-4.7],[13.1,-4.6],[12.2,-5]]],
"Gwinea Równikowa":[[[9.7,2.2],[11.3,2.2],[11.3,1],[9.5,1]]],
"Botswana":[[[21,-18.4],[23.5,-18.2],[25.2,-17.8],[25.9,-18.5],[27,-20.5],[29.3,-22.2],[27,-23.6],[25.5,-25.7],[23,-25.3],[20.7,-26.8],[20,-24.8],[20,-22],[21,-22]]],
"Grenlandia":[[[-73,78.2],[-68,76],[-58,75.5],[-54,70],[-51,69],[-53,66],[-50,62],[-44,60],[-42,62],[-38,65.5],[-32,68],[-22,70.3],[-22,73],[-18,76],[-20,80],[-12,81.5],[-30,83.5],[-50,82.5],[-62,81.5]]],
"Sahara Zachodnia":[[[-13.2,27.7],[-8.7,27.7],[-8.7,26],[-12,26],[-12,23.4],[-13,21.3],[-17,21.3],[-16,23.5],[-14.5,26.3]]],
"Sri Lanka":[[[79.9,9.5],[81.2,8.5],[81.8,7],[80.6,5.9],[79.9,7]]],
"Kaszmir":[[[73.8,35],[77.5,36.5],[79,35],[80.5,32.8],[80,32.3],[76,32.3],[74.5,33]]],
"Falklandy":[[[-56,-48.3],[-54.5,-48.4],[-55,-49]]]
};
const lakes=[
[[-92,46.8],[-88,46.6],[-84.7,46.6],[-85,47.9],[-88.5,48.8],[-89.8,48]],[[-87.8,41.7],[-86.5,41.8],[-85.5,45.6],[-87,45.8],[-88,44.5]],[[-84.6,46],[-81,46],[-80,44.6],[-81.7,43],[-83.5,43.8],[-83.5,45.3]],[[-83.4,41.7],[-78.9,42.9],[-80,42.9],[-83,42.1]],[[-79.7,43.4],[-76.5,44],[-76.3,43.5],[-79,43.2]],
[[-99.5,53.9],[-97.5,54],[-95.8,50.3],[-97,50.3]],[[-124,65],[-116.5,66.3],[-117.5,64.4],[-123.5,64.2]],[[-117.5,60.8],[-109.5,62.8],[-109,61.5],[-116,59.8]],[[-111,58.5],[-105,59.2],[-105,58],[-108.7,57.2]],[[-102.7,55.5],[-100.8,57.3],[-100.5,56],[-101.8,55]],[[-76,52.8],[-73,53],[-73,52.3],[-76,52]],[[-70.3,54],[-68.2,54],[-68.5,53],[-70,53]],[[-66.5,53.8],[-63,53.6],[-63,53],[-66.5,53]],[[-89.5,50],[-88,50],[-88,49],[-89.5,49]],
[[31.8,0.3],[34,0.2],[34,-1.5],[33,-2.7],[31.8,-2]],[[34.2,-9.7],[34.8,-11.5],[34.8,-13.8],[34.4,-13.5],[34.2,-11.5]],[[13.2,13.5],[14.5,13.5],[14.5,12.6],[13.8,12.7]],[[-72,10.9],[-71,10.9],[-71,9.3],[-72,9.3]],
[[103.5,51.7],[106,51.6],[109.8,55.8],[108.7,55.8],[108.8,53.5]],[[100.5,57.5],[101.8,57.4],[102.6,53.2],[101.8,53.3]],[[30,60],[32.5,60.5],[32,61.3],[30.5,61.2]],[[34.5,61],[36.5,61],[36,62.5]],[[73.5,45.5],[79,46.7],[74.5,46.9]],[[58.5,44],[61,45.5],[61,46.7],[59,46]]];
// ---------- drawing ----------
const color=d3.scaleThreshold().domain(breaks).range(palette);
const latLen=d3.scaleLinear().domain(robLat).range(robLen);
const latDfe=d3.scaleLinear().domain(robLat).range(robDfe);
const raw=(l,p)=>{const a=Math.abs(p)*180/Math.PI;return [.8487*latLen(a)*l,1.3875*latDfe(a)*Math.sign(p)];};
const projection=d3.geoProjection(raw).scale(272).translate([549,563]);
const path=d3.geoPath(d3.geoTransform({point(x,y){const p=projection([x,y]);this.stream.point(p[0],p[1]);}}));
const closeRing=r=>[...r,r[0]];
const asFeature=(rings)=>({type:"MultiPolygon",coordinates:rings.map(r=>[closeRing(r)])});
const svg=d3.select("#c");
svg.append("clipPath").attr("id","mapclip").append("rect").attr("x",20).attr("y",170).attr("width",1210).attr("height",680);
const map=svg.append("g").attr("clip-path","url(#mapclip)");
const rows=[...highest,...high,...upperMiddle,...middle,...lowerMiddle,...lowest].map(([n,v])=>({n,v}));
map.selectAll("path.c").data(rows).join("path").attr("class","c").attr("d",d=>path(asFeature(outlines[d.n]))).attr("fill",d=>color(d.v)).attr("stroke","#fff").attr("stroke-width",.8).attr("stroke-linejoin","round");
map.selectAll("path.nd").data(noDataNames).join("path").attr("class","nd").attr("d",n=>path(asFeature(outlines[n]))).attr("fill",noDataColor).attr("stroke","#fff").attr("stroke-width",.7);
map.selectAll("path.l").data(lakes).join("path").attr("class","l").attr("d",r=>path(asFeature([r]))).attr("fill","#fff");
// header
const ink="#111",soft="#454545";
[[20],[890]].forEach(([y])=>svg.append("line").attr("x1",20).attr("x2",1231).attr("y1",y).attr("y2",y).attr("stroke",ink).attr("stroke-width",2));
const txt=(s,x,y,size,weight,fill,len)=>{const t=svg.append("text").attr("x",x).attr("y",y).attr("font-size",size).attr("font-weight",weight).attr("fill",fill).text(s);if(len)t.attr("textLength",len).attr("lengthAdjust","spacingAndGlyphs");return t;};
txt("Nowotwory na świecie",21,79,48,700,"#000",505);
txt("WSKAŹNIK UMIERALNOŚCI NA NOWOTWORY W 2018 R.",20,124,22,700,"#111",606);
txt("Standaryzowany według wieku współczynnik umieralności na nowotwory złośliwe na 100 000 mieszkańców",20,157,21,300,"#2e2e2e",1005);
txt("Źródło: Global Cancer Observatory – WHO, dane szacunkowe",20,878,22,300,"#1c1c1c",580);
// legend
legendLabels.forEach((l,i)=>{const y=663+i*29.4;
 svg.append("rect").attr("x",29).attr("y",y).attr("width",18).attr("height",18).attr("fill",color(legendSamples[i]));
 txt(l,58,y+17,21,300,"#2e2e2e",[120,109,98,98,98][i]);});
// callouts
const dots=[[617,319],[917,344],[724,456]];
const line=svg.append("g").attr("fill","none").attr("stroke","#555").attr("stroke-width",1.2);
line.append("path").attr("d",`M585,235H606Q617,235 617,246V${dots[0][1]}`);
line.append("path").attr("d",`M${dots[1][0]},${dots[1][1]}H1114`);
line.append("path").attr("d",`M${dots[2][0]},${dots[2][1]}V572Q724,585 737,585H757`);
dots.forEach(d=>svg.append("circle").attr("cx",d[0]).attr("cy",d[1]).attr("r",3.6).attr("fill","#3a3a3a"));
const t1=txt(calloutNames[0]+" ",452,242,22.3,300,soft);t1.append("tspan").attr("font-weight",700).text(calloutValues[0]);
txt(calloutNames[1],1122,352,22,300,soft);
txt(calloutValues[1],1123,377,22,700,soft);
txt(calloutNames[2],762,592,22.4,300,soft);
txt(calloutValues[2],763,617,22,700,soft);
// logo
svg.append("ellipse").attr("cx",1211.5).attr("cy",914).attr("rx",19).attr("ry",11).attr("fill","#fff").attr("stroke","#111").attr("stroke-width",1.6);
txt("pap",1197,918,17,900,"#111",29);
</script></body></html>
